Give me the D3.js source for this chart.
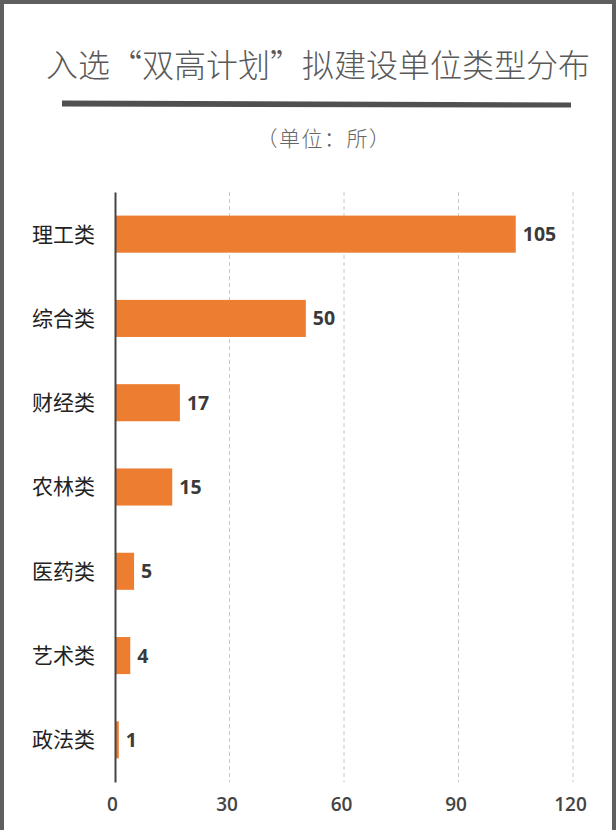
<!DOCTYPE html>
<html>
<head>
<meta charset="utf-8">
<script src="https://cdn.jsdelivr.net/npm/d3@7"></script>
<style>
  html, body { margin: 0; padding: 0; background: #fff; }
  svg { display: block; }
</style>
</head>
<body>
<div id="chart"></div>
<script>
// data
var categories = ['理工类', '综合类', '财经类', '农林类', '医药类', '艺术类', '政法类'];
var counts = [105, 50, 17, 15, 5, 4, 1];
var xTicks = [0, 30, 60, 90, 120];

var width = 616, height = 830;

var svg = d3.select('#chart')
  .append('svg')
  .attr('width', width)
  .attr('height', height);

// frame (left, top, right edges)
svg.append('path')
  .attr('d', 'M2,' + height + 'V2H614V' + height)
  .attr('fill', 'none')
  .attr('stroke', '#5f5f5f')
  .attr('stroke-width', 4);

// title
svg.append('text')
  .attr('x', 318)
  .attr('y', 77)
  .attr('text-anchor', 'middle')
  .attr('font-family', '"Noto Sans CJK SC", sans-serif')
  .attr('font-weight', 300)
  .attr('font-size', 32)
  .attr('fill', '#595959')
  .text('入选“双高计划”拟建设单位类型分布');

// thick rule under title
svg.append('path')
  .attr('d', 'M62,100.5L571,102.5L571,107.5L62,106.5Z')
  .attr('fill', '#505050');

svg.append('text')
  .attr('x', 324)
  .attr('y', 146)
  .attr('text-anchor', 'middle')
  .attr('font-family', '"Noto Sans CJK SC", sans-serif')
  .attr('font-weight', 300)
  .attr('font-size', 21)
  .attr('letter-spacing', 1.5)
  .attr('fill', '#666')
  .text('（单位：所）');

// scales
var x = d3.scaleLinear().domain([0, 120]).range([115, 573]);
var y = d3.scaleBand()
  .domain(categories)
  .range([192, 782])
  .paddingInner(0.56)
  .paddingOuter(0.28);

// dashed gridlines
svg.append('g')
  .selectAll('line')
  .data(xTicks.slice(1))
  .enter()
    .append('line')
    .attr('x1', function(d){ return x(d); })
    .attr('x2', function(d){ return x(d); })
    .attr('y1', 192)
    .attr('y2', 782)
    .attr('stroke', '#c8c8c8')
    .attr('stroke-width', 1)
    .attr('stroke-dasharray', '4,3');

// x axis tick labels
var xAxis = svg.append('g')
  .attr('transform', 'translate(0,782)')
  .call(d3.axisBottom(x).tickValues(xTicks).tickSize(0).tickPadding(16));
xAxis.select('.domain').remove();
xAxis.selectAll('text')
  .attr('font-family', '"Open Sans", sans-serif')
  .attr('font-weight', 600)
  .attr('font-size', 19)
  .attr('fill', '#444')
  .attr('dx', -3);

// bars
svg.selectAll('rect.bar')
  .data(counts)
  .enter()
    .append('rect')
    .attr('class', 'bar')
    .attr('x', x(0))
    .attr('y', function(d, i){ return y(categories[i]); })
    .attr('width', function(d){ return x(d) - x(0); })
    .attr('height', y.bandwidth())
    .attr('fill', '#ED7D31');

// value labels
svg.selectAll('text.value')
  .data(counts)
  .enter()
    .append('text')
    .attr('class', 'value')
    .attr('x', function(d){ return x(d) + 7; })
    .attr('y', function(d, i){ return y(categories[i]) + y.bandwidth() / 2; })
    .attr('dy', '0.36em')
    .attr('font-family', '"Open Sans", sans-serif')
    .attr('font-weight', 700)
    .attr('font-size', 19.5)
    .attr('fill', '#3a3a3a')
    .text(function(d){ return d; });

// y axis with category labels
var yAxis = svg.append('g')
  .attr('transform', 'translate(' + x(0) + ',0)')
  .call(d3.axisLeft(y).tickSize(0).tickPadding(20));
yAxis.select('.domain')
  .attr('stroke', '#454545')
  .attr('stroke-width', 2);
yAxis.selectAll('text')
  .attr('font-family', '"Noto Sans CJK SC", sans-serif')
  .attr('font-size', 21)
  .attr('fill', '#222')
  .attr('dy', '0.35em');
</script>
</body>
</html>
